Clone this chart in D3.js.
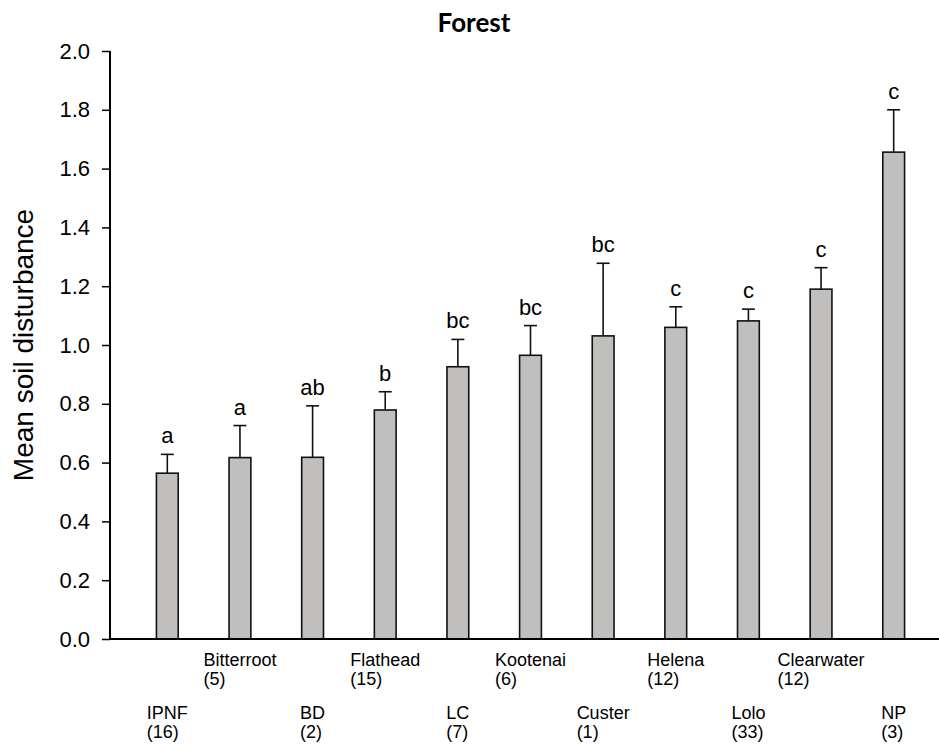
<!DOCTYPE html>
<html>
<head>
<meta charset="utf-8">
<script src="https://cdn.jsdelivr.net/npm/d3@7"></script>
<style>
  html, body { margin: 0; padding: 0; background: #fff; }
  svg { display: block; }
  text { font-family: "Liberation Sans", Arial, sans-serif; fill: #000; }
</style>
</head>
<body>
<svg id="chart" width="939" height="749"></svg>
<script>
const categories = ["IPNF", "Bitterroot", "BD", "Flathead", "LC", "Kootenai", "Custer", "Helena", "Lolo", "Clearwater", "NP"];
const sampleSizes = [16, 5, 2, 15, 7, 6, 1, 12, 33, 12, 3];
const means = [0.564, 0.617, 0.618, 0.779, 0.926, 0.965, 1.031, 1.060, 1.082, 1.190, 1.656];
const stdErrors = [0.064, 0.109, 0.175, 0.062, 0.093, 0.101, 0.247, 0.070, 0.040, 0.073, 0.144];
const groupLetters = ["a", "a", "ab", "b", "bc", "bc", "bc", "c", "c", "c", "c"];
const yTicks = [0.0, 0.2, 0.4, 0.6, 0.8, 1.0, 1.2, 1.4, 1.6, 1.8, 2.0];
const chartTitle = "Forest";
const yTitle = "Mean soil disturbance";

const data = categories.map((c, i) => ({
  name: c, n: sampleSizes[i], mean: means[i], se: stdErrors[i], letter: groupLetters[i], idx: i
}));

const svg = d3.select("#chart");
const axisLeft = 110, axisRight = 939, yTop = 51, yBottom = 639;

const x = d3.scaleBand().domain(categories).range([131, 930]).paddingInner(0.7).paddingOuter(0.35);
const y = d3.scaleLinear().domain([0, 2]).range([yBottom, yTop]);

// Title
svg.append("text")
  .attr("x", 474).attr("y", 32)
  .attr("text-anchor", "middle")
  .style("font-family", "Lato, 'Open Sans', sans-serif")
  .style("font-weight", "bold")
  .style("font-size", "26px")
  .text(chartTitle);

// Y axis title
svg.append("text")
  .attr("transform", `translate(33,${(yTop + yBottom) / 2}) rotate(-90)`)
  .attr("text-anchor", "middle")
  .style("font-size", "28px")
  .text(yTitle);

// Bars
svg.append("g").selectAll("rect").data(data).join("rect")
  .attr("x", d => x(d.name))
  .attr("y", d => y(d.mean))
  .attr("width", x.bandwidth())
  .attr("height", d => y(0) - y(d.mean))
  .attr("fill", "#c0bfbd")
  .attr("stroke", "#111")
  .attr("stroke-width", 1.6);

// Error bars
const eg = svg.append("g").attr("stroke", "#111").attr("stroke-width", 1.6);
eg.selectAll("line.v").data(data).join("line").attr("class", "v")
  .attr("x1", d => x(d.name) + x.bandwidth() / 2)
  .attr("x2", d => x(d.name) + x.bandwidth() / 2)
  .attr("y1", d => y(d.mean))
  .attr("y2", d => y(d.mean + d.se));
eg.selectAll("line.cap").data(data).join("line").attr("class", "cap")
  .attr("x1", d => x(d.name) + x.bandwidth() / 2 - 6.5)
  .attr("x2", d => x(d.name) + x.bandwidth() / 2 + 6.5)
  .attr("y1", d => y(d.mean + d.se))
  .attr("y2", d => y(d.mean + d.se));

// Group letters
svg.append("g").selectAll("text").data(data).join("text")
  .attr("x", d => x(d.name) + x.bandwidth() / 2)
  .attr("y", d => y(d.mean + d.se) - 11)
  .attr("text-anchor", "middle")
  .style("font-size", "22px")
  .text(d => d.letter);

// Y axis
const yAxis = d3.axisLeft(y).tickValues(yTicks).tickFormat(d3.format(".1f")).tickSize(8).tickPadding(12);
const yg = svg.append("g").attr("transform", `translate(${axisLeft},0)`).call(yAxis);
yg.select(".domain").remove();
yg.selectAll(".tick line").attr("stroke", "#000").attr("stroke-width", 1.5);
yg.selectAll(".tick text").style("font-size", "22px").style("font-family", "'Liberation Sans', Arial, sans-serif").attr("fill", "#000");

svg.append("line")
  .attr("x1", axisLeft).attr("x2", axisLeft)
  .attr("y1", yTop).attr("y2", yBottom + 1)
  .attr("stroke", "#000").attr("stroke-width", 2);
svg.append("line")
  .attr("x1", axisLeft - 1).attr("x2", axisRight)
  .attr("y1", yBottom).attr("y2", yBottom)
  .attr("stroke", "#000").attr("stroke-width", 2);

// X category labels, staggered in two rows
const upperBase = 666, lowerBase = 719, lineGap = 19;
const lg = svg.append("g");
data.forEach(d => {
  const cx = x(d.name) + x.bandwidth() / 2;
  const base = d.idx % 2 === 0 ? lowerBase : upperBase;
  const t = lg.append("text").attr("y", base).style("font-size", "18px").text(d.name);
  const w = t.node().getComputedTextLength();
  const left = cx - w / 2;
  t.attr("x", left);
  lg.append("text").attr("x", left).attr("y", base + lineGap).style("font-size", "18px").text(`(${d.n})`);
});
</script>
</body>
</html>
